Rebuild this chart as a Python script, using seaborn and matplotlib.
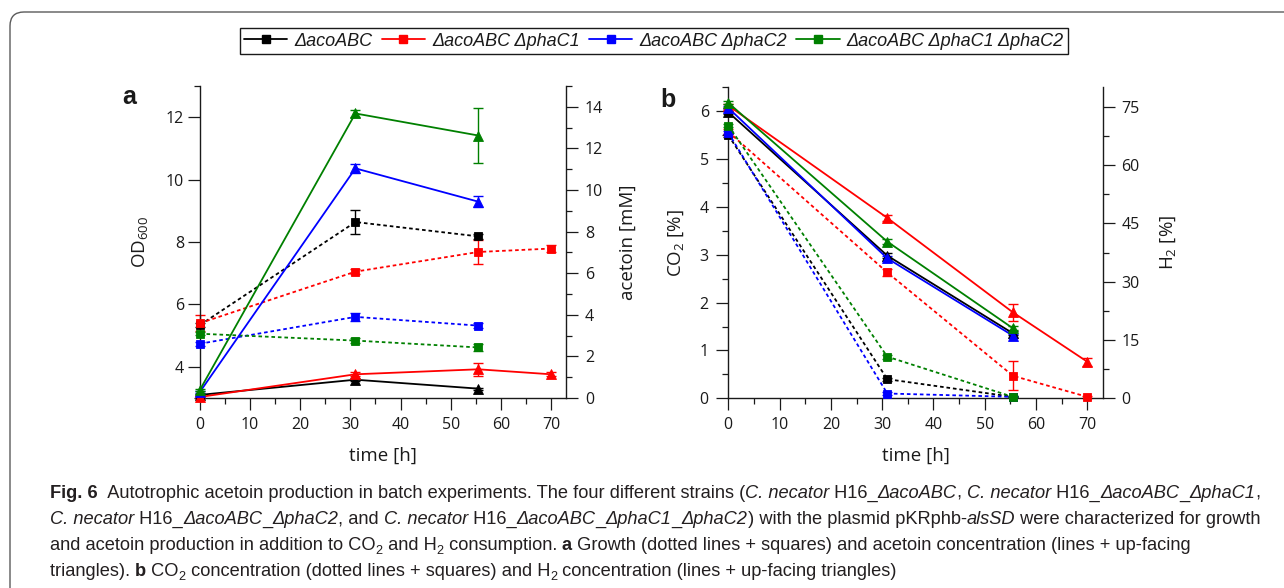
import matplotlib
matplotlib.use("Agg")
import matplotlib.pyplot as plt
import seaborn as sns
import pandas as pd
from matplotlib.lines import Line2D
from matplotlib.patches import FancyBboxPatch
from matplotlib.ticker import FixedLocator, MultipleLocator

# ---------------- data ----------------
strains = ["ΔacoABC", "ΔacoABC ΔphaC1", "ΔacoABC ΔphaC2", "ΔacoABC ΔphaC1 ΔphaC2"]
colors = ["#000000", "#ff0000", "#0000ff", "#008000"]

time_short = [0, 31, 55.5]
time_long = [0, 31, 55.5, 70]

# (a) growth, OD600
od_aco = [5.34, 8.64, 8.18]
od_aco_err = [0.05, 0.37, 0.08]
od_c1 = [5.40, 7.05, 7.68, 7.79]
od_c1_err = [0.25, 0.08, 0.40, 0.12]
od_c2 = [4.74, 5.60, 5.32]
od_c2_err = [0.06, 0.12, 0.08]
od_c1c2 = [5.06, 4.84, 4.62]
od_c1c2_err = [0.05, 0.08, 0.12]

# (a) acetoin [mM]
acetoin_aco = [0.15, 0.88, 0.45]
acetoin_aco_err = [0.03, 0.06, 0.05]
acetoin_c1 = [0.05, 1.14, 1.38, 1.14]
acetoin_c1_err = [0.03, 0.10, 0.32, 0.10]
acetoin_c2 = [0.30, 11.04, 9.44]
acetoin_c2_err = [0.05, 0.20, 0.25]
acetoin_c1c2 = [0.40, 13.68, 12.62]
acetoin_c1c2_err = [0.05, 0.15, 1.33]

# (b) CO2 [%]
co2_aco = [5.50, 0.40, 0.03]
co2_aco_err = [0.03, 0.03, 0.01]
co2_c1 = [5.57, 2.63, 0.47, 0.03]
co2_c1_err = [0.05, 0.08, 0.30, 0.02]
co2_c2 = [5.55, 0.10, 0.03]
co2_c2_err = [0.03, 0.03, 0.01]
co2_c1c2 = [5.70, 0.87, 0.03]
co2_c1c2_err = [0.03, 0.04, 0.01]

# (b) H2 [%]
h2_aco = [73.6, 36.7, 16.7]
h2_aco_err = [0.4, 0.6, 0.5]
h2_c1 = [75.3, 46.4, 22.1, 9.4]
h2_c1_err = [0.5, 0.8, 2.1, 1.0]
h2_c2 = [74.7, 36.0, 16.1]
h2_c2_err = [0.4, 0.6, 0.5]
h2_c1c2 = [76.0, 40.3, 18.0]
h2_c1c2_err = [0.4, 0.6, 0.5]

times = [time_short, time_long, time_short, time_short]
od = [od_aco, od_c1, od_c2, od_c1c2]
od_err = [od_aco_err, od_c1_err, od_c2_err, od_c1c2_err]
acetoin = [acetoin_aco, acetoin_c1, acetoin_c2, acetoin_c1c2]
acetoin_err = [acetoin_aco_err, acetoin_c1_err, acetoin_c2_err, acetoin_c1c2_err]
co2 = [co2_aco, co2_c1, co2_c2, co2_c1c2]
co2_err = [co2_aco_err, co2_c1_err, co2_c2_err, co2_c1c2_err]
h2 = [h2_aco, h2_c1, h2_c2, h2_c1c2]
h2_err = [h2_aco_err, h2_c1_err, h2_c2_err, h2_c1c2_err]

# ---------------- style ----------------
sns.set_theme(style="ticks")
plt.rcParams["font.family"] = ["Open Sans", "DejaVu Sans"]
plt.rcParams["mathtext.default"] = "regular"
plt.rcParams["axes.linewidth"] = 1.0
plt.rcParams["text.color"] = "#1a1a1a"

TICK_FS = 11.5
LABEL_FS = 13.5
DOT = (0, (2.0, 1.6))

W, H = 1284, 588
fig = plt.figure(figsize=(W / 100, H / 100), dpi=100)
fig.patch.set_facecolor("white")

# rounded frame around the figure block
frame = FancyBboxPatch((0.10, -0.5), 13.5, 5.76 + 0.5,
                       boxstyle="round,pad=0,rounding_size=0.14",
                       transform=fig.dpi_scale_trans, facecolor="none",
                       edgecolor="#5a5a5a", linewidth=1.0, clip_on=False)
fig.patches.append(frame)

axA = fig.add_axes([200 / W, 1 - 398 / H, 366 / W, 312 / H])
axB = fig.add_axes([728.3 / W, 1 - 398.3 / H, 374.4 / W, 311 / H])
axA2 = axA.twinx()
axB2 = axB.twinx()


def draw_series(ax, t, y, err, color, marker, ls, ms):
    df = pd.DataFrame({"time": t, "value": y})
    sns.lineplot(data=df, x="time", y="value", ax=ax, color=color, marker=marker,
                 markersize=ms, markeredgewidth=0.6, markeredgecolor=color,
                 linestyle=ls, linewidth=1.3, clip_on=False, zorder=3,
                 legend=False)
    ax.errorbar(t, y, yerr=err, fmt="none", ecolor=color, elinewidth=1.0,
                capsize=3.5, capthick=1.0, clip_on=False, zorder=2)


for i in range(4):
    draw_series(axA, times[i], od[i], od_err[i], colors[i], "s", DOT, 5.5)
    draw_series(axA2, times[i], acetoin[i], acetoin_err[i], colors[i], "^", "-", 6.5)
    draw_series(axB, times[i], co2[i], co2_err[i], colors[i], "s", DOT, 5.5)
    draw_series(axB2, times[i], h2[i], h2_err[i], colors[i], "^", "-", 6.5)


def style_axes(ax, twin, ylim, ylim2, ymaj, ymin, y2maj, y2min, pad_left):
    ax.set_xlim(0, 73)
    ax.set_ylim(*ylim)
    twin.set_ylim(*ylim2)
    ax.xaxis.set_major_locator(MultipleLocator(10))
    ax.xaxis.set_minor_locator(FixedLocator([5, 15, 25, 35, 45, 55, 65]))
    ax.yaxis.set_major_locator(FixedLocator(ymaj))
    ax.yaxis.set_minor_locator(FixedLocator(ymin))
    twin.yaxis.set_major_locator(FixedLocator(y2maj))
    twin.yaxis.set_minor_locator(FixedLocator(y2min))
    for a in (ax, twin):
        a.set_xlabel("")
        a.set_ylabel("")
        a.spines["top"].set_visible(False)
        for s in a.spines.values():
            s.set_linewidth(1.0)
            s.set_color("#1a1a1a")
        a.tick_params(which="major", direction="out", length=8.5, width=0.9,
                      color="#1a1a1a", labelsize=TICK_FS, labelcolor="#1a1a1a")
        a.tick_params(which="minor", direction="out", length=4.5, width=0.9,
                      color="#1a1a1a")
    ax.spines["right"].set_visible(False)
    twin.spines["left"].set_visible(False)
    twin.spines["bottom"].set_visible(False)
    ax.tick_params(axis="x", which="major", pad=5)
    ax.tick_params(axis="y", which="major", pad=pad_left)
    twin.tick_params(axis="y", which="major", pad=5)
    twin.set_zorder(ax.get_zorder() + 1)
    twin.patch.set_visible(False)


style_axes(axA, axA2, (3, 13), (0, 15),
           [4, 6, 8, 10, 12], [3, 13],
           list(range(0, 15, 2)), list(range(1, 16, 2)), 3)
style_axes(axB, axB2, (0, 6.5), (0, 80),
           [0, 1, 2, 3, 4, 5, 6], [0.5, 1.5, 2.5, 3.5, 4.5, 5.5, 6.5],
           [0, 15, 30, 45, 60, 75], [7.5, 22.5, 37.5, 52.5, 67.5], 5.5)

# axis titles
for ax in (axA, axB):
    ax.set_xlabel("time [h]", fontsize=LABEL_FS, color="#1a1a1a")
    ax.xaxis.set_label_coords(0.5, -0.155)
axA.set_ylabel("OD$_{600}$", fontsize=LABEL_FS, color="#1a1a1a")
axA.yaxis.set_label_coords(-0.137, 0.5)
axA2.set_ylabel("acetoin [mM]", fontsize=LABEL_FS, color="#1a1a1a")
axA2.yaxis.set_label_coords(1.145, 0.5)
axB.set_ylabel("CO$_2$ [%]", fontsize=LABEL_FS, color="#1a1a1a")
axB.yaxis.set_label_coords(-0.113, 0.5)
axB2.set_ylabel("H$_2$ [%]", fontsize=LABEL_FS, color="#1a1a1a")
axB2.yaxis.set_label_coords(1.148, 0.5)

# panel letters
fig.text(129.5 / W, 1 - 97 / H, "a", fontsize=18, fontweight="bold",
         family=["Liberation Sans", "DejaVu Sans"], ha="center", va="center")
fig.text(668 / W, 1 - 100 / H, "b", fontsize=18, fontweight="bold",
         family=["Liberation Sans", "DejaVu Sans"], ha="center", va="center")

# legend
handles = [Line2D([], [], color=c, linewidth=1.3, marker="s", markersize=5.5)
           for c in colors]
leg = fig.legend(handles, strains, loc="center", bbox_to_anchor=(654 / W, 1 - 41 / H),
                 ncol=4, frameon=True, fancybox=False, edgecolor="#1a1a1a",
                 framealpha=1, handlelength=2.4, handletextpad=0.4,
                 columnspacing=0.5, borderpad=0.25, borderaxespad=0,
                 prop={"family": ["Liberation Sans", "DejaVu Sans"],
                       "style": "italic", "size": 13})
leg.get_frame().set_linewidth(1.0)

# caption
CAP_FONT = ["Liberation Sans", "DejaVu Sans"]
CAP_COLOR = "#231f20"
CAP_X0, CAP_X1 = 50, 1260
renderer = fig.canvas.get_renderer()


def caption_line(runs, x0, yc, size_base):
    x = x0
    made = []
    for txt, kind in runs:
        size = size_base
        y = yc
        weight = "normal"
        style = "normal"
        if kind == "b":
            weight = "bold"
        elif kind == "i":
            style = "italic"
        elif kind == "sub":
            size = size_base * 0.7
            y = yc + 4
        t = fig.text(x / W, 1 - y / H, txt, fontsize=size, family=CAP_FONT,
                     fontweight=weight, fontstyle=style, color=CAP_COLOR,
                     ha="left", va="baseline")
        made.append(t)
        x += t.get_window_extent(renderer).width
    return made, x - x0


caption = [
    [("Fig. 6", "b"),
     ("  Autotrophic acetoin production in batch experiments. The four different strains (", "r"),
     ("C. necator", "i"), (" H16_", "r"), ("ΔacoABC", "i"), (", ", "r"),
     ("C. necator", "i"), (" H16_", "r"), ("ΔacoABC", "i"), ("_", "r"),
     ("ΔphaC1", "i"), (",", "r")],
    [("C. necator", "i"), (" H16_", "r"), ("ΔacoABC", "i"), ("_", "r"), ("ΔphaC2", "i"),
     (", and ", "r"), ("C. necator", "i"), (" H16_", "r"), ("ΔacoABC", "i"), ("_", "r"),
     ("ΔphaC1", "i"), ("_", "r"), ("ΔphaC2", "i"),
     (") with the plasmid pKRphb-", "r"), ("alsSD", "i"),
     (" were characterized for growth", "r")],
    [("and acetoin production in addition to CO", "r"), ("2", "sub"), (" and H", "r"),
     ("2", "sub"), (" consumption. ", "r"), ("a", "b"),
     (" Growth (dotted lines + squares) and acetoin concentration (lines + up-facing", "r")],
    [("triangles). ", "r"), ("b", "b"), (" CO", "r"), ("2", "sub"),
     (" concentration (dotted lines + squares) and H", "r"), ("2", "sub"),
     (" concentration (lines + up-facing triangles)", "r")],
]

# size the caption so that its first line spans the text block
probe, probe_w = caption_line(caption[0], CAP_X0, 500, 13.0)
for t in probe:
    t.remove()
cap_fs = 13.0 * (CAP_X1 - CAP_X0) / probe_w

for k, line in enumerate(caption):
    caption_line(line, CAP_X0, 498 + 26 * k, cap_fs)

fig.savefig("out.png", dpi=100, facecolor="white")
